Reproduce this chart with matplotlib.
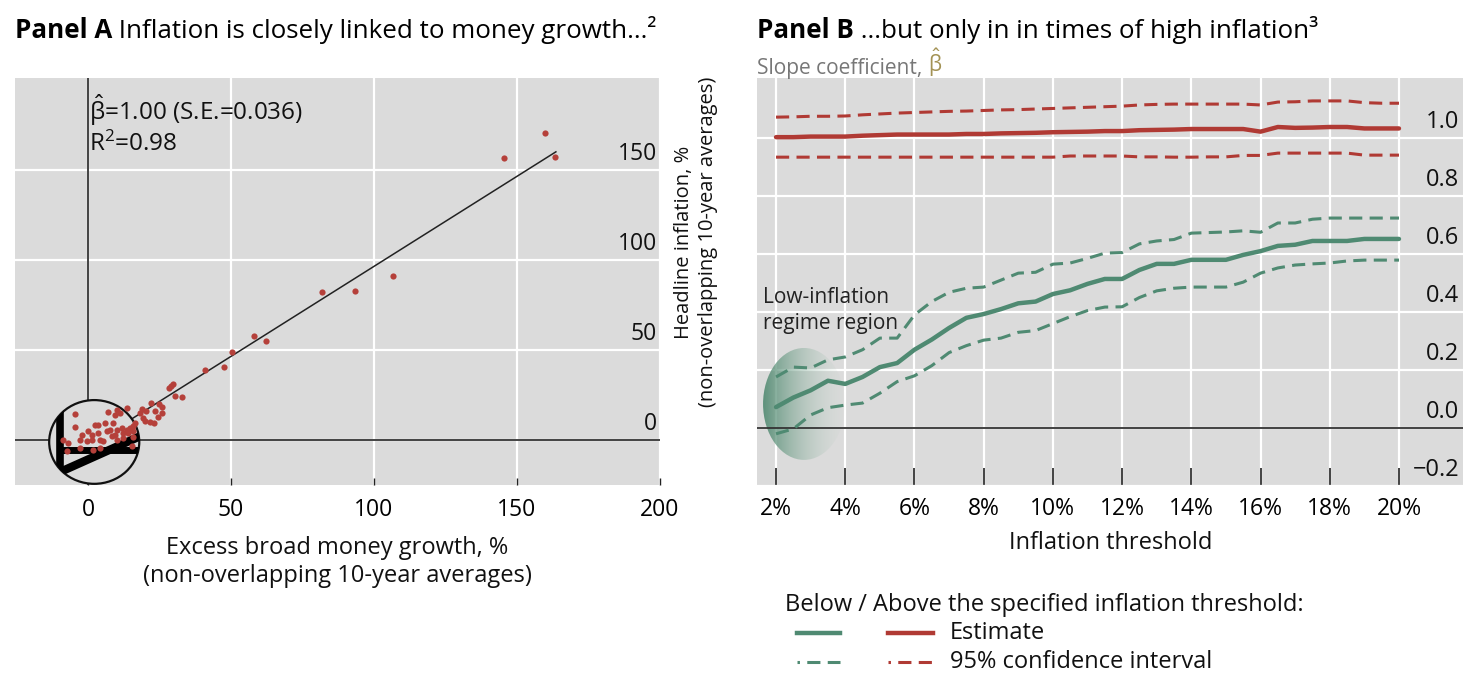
import numpy as np
import matplotlib
matplotlib.use("Agg")
import matplotlib.pyplot as plt
from matplotlib.patches import Ellipse
from matplotlib.lines import Line2D
import matplotlib.transforms as mtransforms

plt.rcParams['font.family'] = ['Open Sans', 'DejaVu Sans']
plt.rcParams['mathtext.fontset'] = 'custom'
plt.rcParams['mathtext.rm'] = 'Open Sans'
plt.rcParams['mathtext.it'] = 'Open Sans'
plt.rcParams['mathtext.bf'] = 'Open Sans:bold'

# ---------------- Panel A data ----------------
money_growth = [159.8, 145.5, 163.3, 106.7, 93.4, 81.8, 62.2, 58.0, 50.4, 47.6, 40.9,
                29.7, 28.3, 30.4, 32.9, 22.0, 24.8, 25.9, 23.4, 25.9, 24.5, 18.9, 18.2,
                19.2, 21.7, 23.1, 20.3, 28.9, 19.9,
                -4.5, 7.0, 10.1, 9.4, 11.2, 13.6, -4.5, 2.4, 3.5, 5.9, 8.7, 0.0, -2.1,
                1.4, 3.5, 6.6, 7.7, 10.1, 11.9, 13.6, 14.7, 15.7, 12.2, 14.0, 15.7,
                -8.7, -7.0, -2.8, -0.3, 1.4, 4.2, 5.2, 10.1, 12.2, 15.4, -2.8, 1.7,
                4.2, -7.3, 8.4, 9.4, 15.7, 16.4]
headline_infl = [170.6, 156.7, 157.2, 91.1, 82.8, 82.2, 55.0, 57.8, 48.9, 40.6, 38.9,
                 31.1, 28.9, 24.4, 23.9, 20.6, 20.0, 18.3, 16.1, 15.0, 12.8, 17.2, 15.0,
                 12.2, 10.0, 9.4, 16.1, 30.2, 10.8,
                 14.4, 15.6, 16.7, 13.9, 15.0, 17.8, 7.2, 8.3, 8.3, 9.4, 9.4, 5.0, 2.8,
                 2.8, 3.9, 5.0, 5.6, 5.6, 6.7, 5.6, 6.7, 5.0, 3.9, 3.9, 7.8,
                 0.0, -1.7, 0.0, -0.6, 0.0, 0.0, -0.6, 0.0, 1.1, -3.3, -4.4, -5.6,
                 -4.4, -6.1, 2.2, 2.8, 1.7, 9.6]
fit_slope = 1.00
fit_intercept = -3.6
fit_x_range = [0.0, 163.6]
xticks_A = [0, 50, 100, 150, 200]
yticks_A = [0, 50, 100, 150]

# ---------------- Panel B data ----------------
thresholds = [2.0, 2.5, 3.0, 3.5, 4.0, 4.5, 5.0, 5.5, 6.0, 6.5, 7.0, 7.5, 8.0, 8.5,
              9.0, 9.5, 10.0, 10.5, 11.0, 11.5, 12.0, 12.5, 13.0, 13.5, 14.0, 14.5,
              15.0, 15.5, 16.0, 16.5, 17.0, 17.5, 18.0, 18.5, 19.0, 19.5, 20.0]
below_est = [0.072, 0.105, 0.130, 0.163, 0.152, 0.176, 0.210, 0.224, 0.270, 0.305,
             0.345, 0.380, 0.393, 0.410, 0.430, 0.436, 0.462, 0.475, 0.497, 0.514,
             0.514, 0.545, 0.566, 0.566, 0.580, 0.580, 0.580, 0.597, 0.610, 0.628,
             0.632, 0.645, 0.645, 0.645, 0.652, 0.652, 0.652]
below_hi = [0.176, 0.210, 0.207, 0.235, 0.245, 0.270, 0.310, 0.310, 0.390, 0.436,
            0.468, 0.482, 0.486, 0.510, 0.534, 0.537, 0.565, 0.569, 0.585, 0.603,
            0.605, 0.635, 0.645, 0.650, 0.672, 0.674, 0.676, 0.680, 0.675, 0.707,
            0.707, 0.720, 0.724, 0.724, 0.724, 0.724, 0.724]
below_lo = [-0.020, -0.003, 0.045, 0.070, 0.079, 0.086, 0.120, 0.160, 0.180, 0.215,
            0.260, 0.284, 0.303, 0.310, 0.330, 0.336, 0.360, 0.384, 0.405, 0.417,
            0.418, 0.450, 0.473, 0.482, 0.486, 0.486, 0.486, 0.503, 0.534, 0.552,
            0.562, 0.566, 0.569, 0.576, 0.579, 0.579, 0.579]
above_est = [1.003, 1.003, 1.005, 1.005, 1.005, 1.008, 1.010, 1.012, 1.012, 1.012,
             1.012, 1.014, 1.014, 1.016, 1.017, 1.018, 1.020, 1.021, 1.022, 1.024,
             1.024, 1.027, 1.028, 1.029, 1.031, 1.031, 1.031, 1.031, 1.022, 1.038,
             1.035, 1.036, 1.038, 1.038, 1.033, 1.033, 1.033]
above_hi = [1.072, 1.073, 1.075, 1.075, 1.076, 1.080, 1.083, 1.086, 1.088, 1.090,
            1.092, 1.093, 1.095, 1.097, 1.098, 1.100, 1.102, 1.104, 1.106, 1.108,
            1.110, 1.114, 1.116, 1.117, 1.117, 1.117, 1.117, 1.117, 1.114, 1.124,
            1.125, 1.128, 1.128, 1.128, 1.122, 1.120, 1.120]
above_lo = [0.934, 0.934, 0.934, 0.934, 0.934, 0.934, 0.934, 0.934, 0.934, 0.934,
            0.934, 0.934, 0.934, 0.934, 0.934, 0.934, 0.934, 0.938, 0.938, 0.938,
            0.938, 0.935, 0.935, 0.934, 0.934, 0.935, 0.935, 0.940, 0.940, 0.948,
            0.948, 0.948, 0.948, 0.948, 0.941, 0.941, 0.941]
xticks_B = [2, 4, 6, 8, 10, 12, 14, 16, 18, 20]
xticklabels_B = ['2%', '4%', '6%', '8%', '10%', '12%', '14%', '16%', '18%', '20%']
yticks_B = [-0.2, 0.0, 0.2, 0.4, 0.6, 0.8, 1.0]
yticklabels_B = ['\u22120.2', '0.0', '0.2', '0.4', '0.6', '0.8', '1.0']

# ---------------- styles ----------------
BG = '#dbdbdb'
GREEN = '#4f8a72'
RED = '#b03a34'
DOT = '#b5403a'
FT = 18.7     # titles
FL = 17       # labels / legend
FK = 16.5     # tick labels
W, H = 1479, 690

fig = plt.figure(figsize=(W / 100, H / 100), dpi=100)


def fx(px):
    return px / W


def fy(py):
    return (H - py) / H


# ================= Panel A =================
axA = fig.add_axes([fx(15), fy(485), (660 - 15) / W, (485 - 78) / H])
axA.set_facecolor(BG)
axA.set_xlim(-25.5, 200)
axA.set_ylim(-25, 201)
for s in axA.spines.values():
    s.set_visible(False)
axA.set_xticks(xticks_A)
axA.set_xticklabels([str(v) for v in xticks_A], fontsize=FK)
axA.set_yticks(yticks_A)
axA.set_yticklabels([])
axA.tick_params(axis='x', direction='in', length=5, width=1, color='#222', pad=9)
axA.tick_params(axis='y', length=0)
axA.grid(True, color='white', lw=1.6, zorder=0)
axA.set_axisbelow(True)

axA.axhline(0, color='#222', lw=1.2, zorder=2)
axA.axvline(0, color='#222', lw=1.2, zorder=2)

fx_line = np.array(fit_x_range)
axA.plot(fx_line, fit_intercept + fit_slope * fx_line, color='#222', lw=1.1, zorder=2)

# magnifier circle
circ = Ellipse((2.2, -1.1), 31.5, 46.5, facecolor=BG, edgecolor='#111', lw=1.6, zorder=3)
axA.add_patch(circ)
l1, = axA.plot([-9.8, -9.8], [-40, 40], color='black', lw=5.5, zorder=3.5, solid_capstyle='butt')
l2, = axA.plot([-9.8, 30], [-5.6, -5.6], color='black', lw=5.0, zorder=3.5, solid_capstyle='butt')
l3, = axA.plot([-15, 25], [-21.5, 6.9], color='black', lw=6.0, zorder=3.5, solid_capstyle='butt')
for ln in (l1, l2, l3):
    ln.set_clip_path(circ)

axA.scatter(money_growth, headline_infl, s=20, color=DOT, zorder=4, linewidths=0)

trA = mtransforms.offset_copy(axA.get_yaxis_transform(), fig=fig, x=-3, y=4, units='dots')
for v in yticks_A:
    axA.text(1.0, v, str(v), transform=trA, ha='right', va='bottom', fontsize=FK, color='#111')

axA.text(0.2, 183, r'$\hat{\beta}$=1.00 (S.E.=0.036)', fontsize=17.5, va='center', ha='left', color='#111')
axA.text(0.2, 164, r'R$^{2}$=0.98', fontsize=17.5, va='center', ha='left', color='#111')

fig.text(fx(337), fy(562), 'Excess broad money growth, %\n(non-overlapping 10-year averages)',
         ha='center', va='center', fontsize=FL, linespacing=1.25, color='#111')
fig.text(fx(696), fy(242), 'Headline inflation, %\n(non-overlapping 10-year averages)',
         ha='center', va='center', rotation=90, fontsize=14.5, linespacing=1.3,
         multialignment='center', color='#111')

tA = fig.text(fx(15), fy(38), 'Panel A', fontsize=FT, fontweight='bold', va='baseline', ha='left')
fig.add_artist(plt.Annotation(' Inflation is closely linked to money growth...\u00b2',
                              xy=(1, 0), xycoords=tA, va='bottom', ha='left', fontsize=FT))

# ================= Panel B =================
axB = fig.add_axes([fx(757), fy(486), (1463 - 757) / W, (486 - 78) / H])
axB.set_facecolor(BG)
for s in axB.spines.values():
    s.set_visible(False)
axB.set_xticks(xticks_B)
axB.set_xticklabels(xticklabels_B, fontsize=FK)
axB.set_yticks(yticks_B)
axB.set_yticklabels([])
axB.tick_params(axis='x', direction='in', length=13, width=1.2, color='#222', pad=8)
axB.tick_params(axis='y', length=0)
axB.grid(True, color='white', lw=1.6, zorder=0)
axB.set_axisbelow(True)
axB.axhline(0, color='#333', lw=1.3, zorder=2)

# shaded low-inflation ellipse with horizontal gradient
ell_c, ell_w, ell_h = (2.81, 0.083), 2.37, 0.386
ell = Ellipse(ell_c, ell_w, ell_h, facecolor='none', edgecolor='none', zorder=1.5)
axB.add_patch(ell)
nx = 200
t = np.linspace(0, 1, nx)
grad = np.zeros((2, nx, 4))
grad[..., 0] = (0.30 + 0.45 * t)[None, :]
grad[..., 1] = (0.53 + 0.30 * t)[None, :]
grad[..., 2] = (0.43 + 0.35 * t)[None, :]
grad[..., 3] = (0.85 * (1 - t) ** 1.1 + 0.03)[None, :]
im = axB.imshow(grad, extent=[ell_c[0] - ell_w / 2, ell_c[0] + ell_w / 2,
                              ell_c[1] - ell_h / 2, ell_c[1] + ell_h / 2],
                aspect='auto', zorder=1.5, interpolation='bilinear')
im.set_clip_path(ell)

dash = (0, (4.3, 2.4))
axB.plot(thresholds, below_hi, color=GREEN, lw=2.2, ls=dash, zorder=3)
axB.plot(thresholds, below_lo, color=GREEN, lw=2.2, ls=dash, zorder=3)
axB.plot(thresholds, below_est, color=GREEN, lw=3.2, zorder=3, solid_capstyle='round')
axB.plot(thresholds, above_hi, color=RED, lw=2.2, ls=dash, zorder=3)
axB.plot(thresholds, above_lo, color=RED, lw=2.2, ls=dash, zorder=3)
axB.plot(thresholds, above_est, color=RED, lw=3.2, zorder=3, solid_capstyle='round')
axB.set_xlim(1.45, 21.85)
axB.set_ylim(-0.2, 1.207)

trB = mtransforms.offset_copy(axB.get_yaxis_transform(), fig=fig, x=-4, y=4, units='dots')
for v, lab in zip(yticks_B, yticklabels_B):
    axB.text(1.0, v, lab, transform=trB, ha='right', va='bottom', fontsize=FL, color='#111')

axB.text(0.008, 0.43, 'Low-inflation\nregime region', transform=axB.transAxes,
         ha='left', va='center', fontsize=15, linespacing=1.3, color='#222')

fig.text(fx(1111), fy(543), 'Inflation threshold', ha='center', va='center', fontsize=FL, color='#111')

tB = fig.text(fx(757), fy(38), 'Panel B', fontsize=FT, fontweight='bold', va='baseline', ha='left')
fig.add_artist(plt.Annotation(' ...but only in in times of high inflation\u00b3',
                              xy=(1, 0), xycoords=tB, va='bottom', ha='left', fontsize=FT))
tS = fig.text(fx(757), fy(74), 'Slope coefficient, ', fontsize=15, color='#777777',
              va='baseline', ha='left')
fig.add_artist(plt.Annotation(r'$\hat{\beta}$', xy=(1, 0), xycoords=tS, va='bottom',
                              ha='left', fontsize=15, color='#a39254'))

# ---------------- legend ----------------
fig.text(fx(785), fy(605), 'Below / Above the specified inflation threshold:', ha='left',
         va='center', fontsize=FL, color='#111')
leg_dash = (3.5, (4.3, 2.4))
for yy, style, lw, lab in [(633, '-', 3.2, 'Estimate'), (662, leg_dash, 2.2, '95% confidence interval')]:
    fig.add_artist(Line2D([fx(797), fx(840)], [fy(yy), fy(yy)], color=GREEN, lw=lw, ls=style))
    fig.add_artist(Line2D([fx(888), fx(933)], [fy(yy), fy(yy)], color=RED, lw=lw, ls=style))
    fig.text(fx(950), fy(yy), lab, ha='left', va='center', fontsize=FL, color='#111')

fig.savefig('out.png', dpi=100, facecolor='white')
